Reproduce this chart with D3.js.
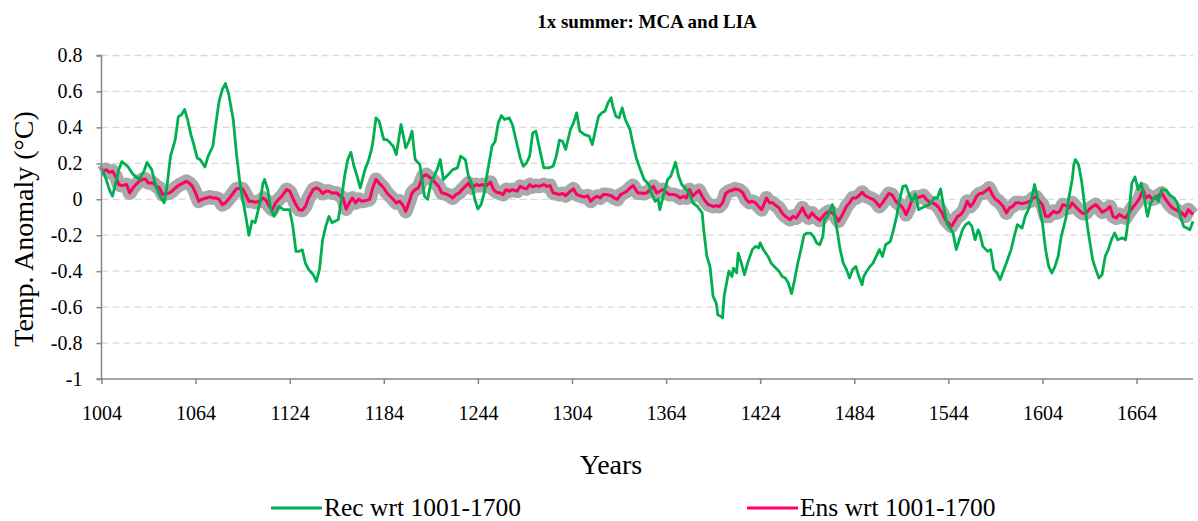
<!DOCTYPE html>
<html>
<head>
<meta charset="utf-8">
<script src="https://cdn.jsdelivr.net/npm/d3@7"></script>
<style>
  body { margin: 0; background: #fff; }
  svg { display: block; }
  text { font-family: "Liberation Serif", "Times New Roman", serif; fill: #000; }
</style>
</head>
<body>
<div id="container"></div>
<script>
// values (year, anomaly in C)
var recYears = [1004,1007,1009,1011,1013,1015,1017,1021,1024,1028,1031,1033,1036,1039,1042,1044,1046,1048,1051,1053,1055,1057,1059,1061,1063,1065,1067,1070,1072,1075,1077,1079,1081,1083,1085,1088,1090,1092,1094,1096,1098,1100,1102,1105,1107,1108,1110,1112,1114,1117,1120,1124,1126,1128,1130,1132,1134,1136,1139,1141,1143,1145,1147,1149,1151,1155,1157,1159,1161,1163,1165,1167,1169,1172,1174,1176,1177,1179,1181,1184,1186,1188,1190,1192,1195,1198,1200,1202,1204,1207,1209,1210,1212,1214,1218,1220,1222,1225,1228,1231,1233,1236,1238,1240,1242,1244,1246,1248,1250,1253,1255,1257,1259,1261,1264,1266,1269,1271,1273,1275,1277,1279,1281,1283,1286,1289,1292,1294,1296,1298,1300,1303,1305,1307,1309,1312,1315,1317,1319,1321,1323,1325,1327,1329,1330,1332,1334,1336,1338,1341,1343,1345,1347,1350,1353,1355,1357,1359,1360,1363,1365,1367,1369,1370,1372,1374,1377,1379,1381,1384,1387,1388,1390,1392,1394,1396,1397,1399,1400,1401,1403,1404,1406,1407,1409,1410,1412,1414,1416,1419,1421,1423,1424,1426,1429,1431,1433,1436,1438,1440,1442,1444,1446,1448,1450,1452,1454,1456,1458,1460,1462,1464,1465,1467,1470,1471,1473,1475,1477,1479,1481,1483,1485,1487,1489,1490,1492,1494,1496,1498,1500,1502,1504,1507,1509,1511,1513,1515,1517,1519,1521,1523,1525,1527,1529,1532,1535,1537,1539,1541,1543,1545,1547,1549,1551,1553,1555,1557,1559,1561,1563,1564,1566,1569,1571,1573,1575,1577,1579,1581,1584,1586,1588,1591,1593,1595,1597,1599,1601,1604,1606,1608,1610,1612,1614,1616,1619,1621,1623,1624,1625,1627,1629,1631,1633,1636,1638,1640,1642,1644,1646,1648,1650,1652,1655,1657,1659,1661,1663,1665,1667,1669,1671,1673,1676,1678,1680,1683,1685,1688,1690,1692,1694,1696,1698,1700];
var recValues = [0.175,0.11,0.054,0.017,0.09,0.165,0.21,0.18,0.14,0.11,0.155,0.205,0.165,0.063,0.007,-0.02,0.09,0.24,0.33,0.46,0.47,0.50,0.44,0.36,0.30,0.23,0.22,0.18,0.24,0.295,0.425,0.546,0.61,0.644,0.59,0.444,0.258,0.11,0.0,-0.095,-0.2,-0.12,-0.13,-0.02,0.09,0.11,0.054,-0.058,-0.095,-0.04,-0.058,-0.058,-0.15,-0.29,-0.29,-0.28,-0.355,-0.39,-0.42,-0.457,-0.39,-0.225,-0.15,-0.095,-0.13,-0.113,0,0.128,0.22,0.262,0.184,0.128,0.063,0.165,0.21,0.27,0.314,0.453,0.435,0.332,0.332,0.314,0.295,0.249,0.416,0.286,0.323,0.379,0.221,0.193,0.072,0.017,0,0.09,0.165,0.221,0.11,0.137,0.165,0.175,0.24,0.221,0.128,0.09,0,-0.054,-0.03,0.035,0.147,0.295,0.323,0.425,0.466,0.444,0.453,0.416,0.305,0.23,0.184,0.202,0.24,0.37,0.379,0.295,0.175,0.175,0.184,0.24,0.329,0.323,0.277,0.388,0.425,0.481,0.379,0.36,0.351,0.305,0.388,0.462,0.481,0.49,0.537,0.565,0.518,0.462,0.453,0.509,0.444,0.388,0.305,0.23,0.18,0.11,0.082,0.026,-0.011,0,-0.058,0.045,0.11,0.128,0.18,0.206,0.128,0.082,0.054,0.026,-0.02,-0.04,-0.076,-0.17,-0.318,-0.374,-0.54,-0.578,-0.643,-0.652,-0.66,-0.54,-0.447,-0.4,-0.43,-0.383,-0.41,-0.3,-0.355,-0.42,-0.355,-0.28,-0.262,-0.27,-0.243,-0.28,-0.318,-0.355,-0.374,-0.4,-0.43,-0.438,-0.466,-0.525,-0.447,-0.355,-0.28,-0.197,-0.188,-0.188,-0.206,-0.243,-0.253,-0.206,-0.113,-0.095,-0.03,-0.058,-0.17,-0.28,-0.355,-0.39,-0.438,-0.39,-0.374,-0.43,-0.475,-0.43,-0.4,-0.374,-0.355,-0.318,-0.28,-0.318,-0.253,-0.234,-0.17,-0.095,0,0.072,0.076,0.026,-0.011,0.03,-0.058,-0.048,-0.04,-0.03,0.007,0.007,0.058,-0.04,-0.132,-0.16,-0.188,-0.28,-0.225,-0.17,-0.141,-0.128,-0.15,-0.225,-0.17,-0.188,-0.262,-0.29,-0.28,-0.39,-0.41,-0.447,-0.4,-0.355,-0.28,-0.206,-0.141,-0.16,-0.095,-0.058,0,0.082,0,-0.132,-0.28,-0.374,-0.41,-0.374,-0.318,-0.206,-0.104,0.017,0.11,0.193,0.221,0.193,0.1,-0.04,-0.17,-0.336,-0.39,-0.438,-0.42,-0.318,-0.28,-0.225,-0.188,-0.225,-0.215,-0.225,-0.095,0.09,0.124,0.054,0.09,0,-0.095,-0.02,0.017,-0.011,0.054,0.05,0.026,0.007,-0.02,-0.095,-0.15,-0.16,-0.17,-0.122];

var ensYears = [1004,1007,1009,1011,1013,1015,1017,1020,1022,1024,1026,1028,1030,1032,1034,1037,1039,1041,1043,1045,1047,1049,1051,1054,1056,1058,1060,1062,1064,1066,1068,1071,1073,1075,1077,1079,1081,1083,1085,1088,1090,1092,1094,1096,1098,1100,1102,1105,1107,1109,1111,1113,1115,1117,1119,1122,1124,1126,1128,1130,1132,1134,1136,1139,1141,1143,1145,1147,1149,1151,1154,1156,1158,1160,1162,1164,1166,1168,1170,1173,1175,1177,1179,1181,1184,1186,1188,1190,1192,1194,1196,1198,1200,1202,1204,1206,1209,1211,1213,1215,1217,1219,1221,1223,1226,1228,1230,1232,1234,1236,1238,1240,1243,1245,1247,1249,1252,1254,1256,1258,1260,1262,1264,1266,1269,1271,1273,1275,1277,1279,1281,1283,1286,1288,1290,1292,1294,1296,1298,1300,1303,1305,1307,1309,1312,1314,1316,1318,1320,1322,1324,1326,1329,1331,1333,1335,1337,1339,1341,1343,1346,1348,1350,1352,1354,1356,1358,1360,1362,1364,1366,1369,1371,1373,1375,1377,1379,1381,1383,1385,1387,1389,1391,1394,1396,1398,1400,1402,1404,1406,1408,1411,1413,1415,1417,1419,1421,1423,1425,1428,1430,1432,1434,1436,1438,1440,1443,1445,1447,1449,1451,1453,1455,1457,1459,1462,1464,1466,1468,1470,1472,1474,1477,1479,1481,1483,1485,1487,1489,1491,1494,1496,1498,1500,1502,1504,1506,1508,1511,1513,1515,1517,1519,1521,1523,1525,1528,1530,1532,1534,1536,1538,1540,1542,1544,1546,1548,1550,1552,1554,1556,1558,1560,1562,1564,1566,1569,1570,1572,1574,1576,1579,1581,1583,1585,1587,1589,1591,1594,1596,1598,1600,1602,1604,1606,1608,1611,1613,1615,1617,1619,1621,1623,1625,1628,1630,1632,1634,1636,1638,1640,1642,1645,1647,1649,1651,1653,1655,1657,1659,1662,1664,1666,1668,1670,1672,1674,1676,1678,1680,1682,1685,1687,1689,1691,1693,1695,1697,1700];
var ensValues = [0.147,0.165,0.15,0.156,0.128,0.082,0.076,0.082,0.035,0.063,0.082,0.1,0.11,0.113,0.09,0.09,0.072,0.063,0.026,0.032,0.035,0.045,0.063,0.082,0.09,0.1,0.09,0.072,0.035,-0.011,0,0.007,0.013,0.007,0.007,0,-0.03,-0.02,0,0.035,0.058,0.061,0.058,0.026,-0.011,-0.011,-0.017,-0.011,0.007,-0.006,-0.04,-0.058,-0.02,0,0.017,0.054,0.045,0.007,-0.03,-0.058,-0.061,-0.04,0.007,0.054,0.063,0.054,0.032,0.045,0.045,0.035,0.035,0.02,0.007,-0.054,-0.02,0.007,-0.02,0,-0.011,-0.006,0.0,0.065,0.11,0.09,0.063,0.035,0.017,0,-0.02,-0.011,-0.03,-0.067,-0.02,0.035,0.054,0.063,0.128,0.137,0.124,0.11,0.09,0.072,0.035,0.032,0.02,0.007,0.026,0.035,0.054,0.072,0.09,0.063,0.082,0.076,0.082,0.072,0.095,0.054,0.039,0.035,0.026,0.054,0.045,0.054,0.045,0.072,0.063,0.058,0.082,0.069,0.076,0.072,0.082,0.072,0.076,0.035,0.032,0.026,0.032,0.02,0.045,0.058,0.026,0.02,0.013,0.02,-0.011,0.007,0.017,0.007,0.026,0.026,0.02,0.007,0,0.026,0.035,0.045,0.063,0.076,0.035,0.035,0.032,0.039,0.054,0.072,0.035,0.045,0.054,0.039,0.026,0.026,0.02,0.007,0.017,0.007,0.054,0.017,0.035,0.05,0.017,-0.011,-0.03,-0.04,-0.035,-0.04,-0.02,0.032,0.045,0.05,0.058,0.05,0.035,0,-0.017,-0.011,-0.02,-0.04,-0.058,0.007,-0.02,-0.02,-0.035,-0.048,-0.076,-0.095,-0.113,-0.095,-0.104,-0.076,-0.048,-0.085,-0.104,-0.076,-0.095,-0.117,-0.095,-0.076,-0.067,-0.076,-0.095,-0.122,-0.076,-0.04,-0.02,0.007,0.007,0.02,0.039,0.02,0.007,0,-0.017,-0.04,-0.02,0.007,0.032,0.026,-0.017,-0.03,-0.048,-0.085,-0.048,0,0.013,0.01,0.02,0,-0.017,-0.02,-0.03,-0.048,-0.076,-0.113,-0.132,-0.15,-0.122,-0.095,-0.085,-0.058,-0.011,-0.04,-0.02,0.017,0.032,0.035,0.054,0.063,0.026,0,-0.011,-0.04,-0.076,-0.048,-0.04,-0.02,-0.02,-0.024,-0.017,-0.011,0.007,0.013,-0.011,-0.03,-0.095,-0.095,-0.067,-0.076,-0.067,-0.03,-0.035,-0.048,-0.02,-0.04,-0.067,-0.08,-0.076,-0.054,-0.04,-0.03,-0.048,-0.071,-0.058,-0.04,-0.095,-0.104,-0.085,-0.095,-0.104,-0.076,-0.04,-0.02,0.007,0.054,0.007,0.02,0.002,0.007,0.02,0.035,0.007,-0.03,-0.048,-0.058,-0.067,-0.076,-0.095,-0.058,-0.085];

var yTicks = [-1,-0.8,-0.6,-0.4,-0.2,0,0.2,0.4,0.6,0.8];
var xTicks = [1004,1064,1124,1184,1244,1304,1364,1424,1484,1544,1604,1664];
var seriesNames = ['Rec wrt 1001-1700','Ens wrt 1001-1700'];

var width = 1198;
var height = 521;
var plotLeft = 101.5, plotRight = 1193, plotTop = 55.5, plotBottom = 379;
var serif = '"Liberation Serif", "Times New Roman", serif';

var svg = d3.select('#container').append('svg')
    .attr('width',width).attr('height',height);

var x = d3.scaleLinear().domain([1004,1700]).range([plotLeft,plotRight]);
var y = d3.scaleLinear().domain([-1,0.8]).range([plotBottom,plotTop]);

// grid
svg.append('g').selectAll('line')
    .data(yTicks.filter(function(d){ return d > -1; }))
    .enter().append('line')
    .attr('x1',plotLeft).attr('x2',plotRight)
    .attr('y1',function(d){ return y(d); })
    .attr('y2',function(d){ return y(d); })
    .attr('stroke','#d9d9d9')
    .attr('stroke-width',1.3)
    .attr('stroke-dasharray','7,4');

var rec = recYears.map(function(d,i){ return [d,recValues[i]]; });
var ens = ensYears.map(function(d,i){ return [d,ensValues[i]]; });

var line = d3.line()
    .x(function(d){ return x(d[0]); })
    .y(function(d){ return y(d[1]); });

// ensemble spread as a wide grey band
svg.append('path').datum(ens)
    .attr('d',line)
    .attr('fill','none')
    .attr('stroke','#a9a9a9')
    .attr('stroke-width',14)
    .attr('stroke-linejoin','round');

svg.append('path').datum(ens)
    .attr('d',line)
    .attr('fill','none')
    .attr('stroke','#ff0066')
    .attr('stroke-width',3)
    .attr('stroke-linejoin','round');

svg.append('path').datum(rec)
    .attr('d',line)
    .attr('fill','none')
    .attr('stroke','#00b050')
    .attr('stroke-width',2.8)
    .attr('stroke-linejoin','round');

// axes
var yAxis = svg.append('g')
    .attr('transform','translate('+plotLeft+',0)')
    .call(d3.axisLeft(y).tickValues(yTicks).tickSize(5).tickPadding(14)
        .tickFormat(function(d){ return String(+d.toFixed(1)); }));
var xAxis = svg.append('g')
    .attr('transform','translate(0,'+plotBottom+')')
    .call(d3.axisBottom(x).tickValues(xTicks).tickSize(5).tickPadding(22)
        .tickFormat(function(d){ return String(d); }));

[yAxis,xAxis].forEach(function(a){
    a.attr('font-family',serif).attr('font-size',20);
    a.select('.domain').attr('stroke','#868686').attr('stroke-width',1.5);
    a.selectAll('.tick line').attr('stroke','#868686').attr('stroke-width',1.5);
    a.selectAll('.tick text')
        .attr('font-family',serif)
        .style('font-family',serif)
        .attr('fill','#000');
});
yAxis.select('.domain').attr('d','M-5,'+plotTop+'H0V'+plotBottom+'H-5');
xAxis.select('.domain').attr('d','M'+plotLeft+',0H'+plotRight);

// titles
svg.append('text')
    .attr('x',647).attr('y',28)
    .attr('text-anchor','middle')
    .style('font-size','19px')
    .style('font-weight','bold')
    .text('1x summer: MCA and LIA');

svg.append('text')
    .attr('transform','translate(33,229) rotate(-90)')
    .attr('text-anchor','middle')
    .style('font-size','28px')
    .text('Temp. Anomaly (°C)');

svg.append('text')
    .attr('x',611).attr('y',474)
    .attr('text-anchor','middle')
    .style('font-size','28px')
    .text('Years');

// legend
var legendX = [271,747];
var legendColors = ['#00b050','#ff0066'];
var legend = svg.append('g').selectAll('g')
    .data(seriesNames)
    .enter().append('g')
    .attr('transform',function(d,i){ return 'translate('+legendX[i]+',508)'; });
legend.append('line')
    .attr('x1',0).attr('x2',51)
    .attr('stroke',function(d,i){ return legendColors[i]; })
    .attr('stroke-width',3);
legend.append('text')
    .attr('x',53).attr('y',8)
    .style('font-size','25.5px')
    .text(function(d){ return d; });
</script>
</body>
</html>
